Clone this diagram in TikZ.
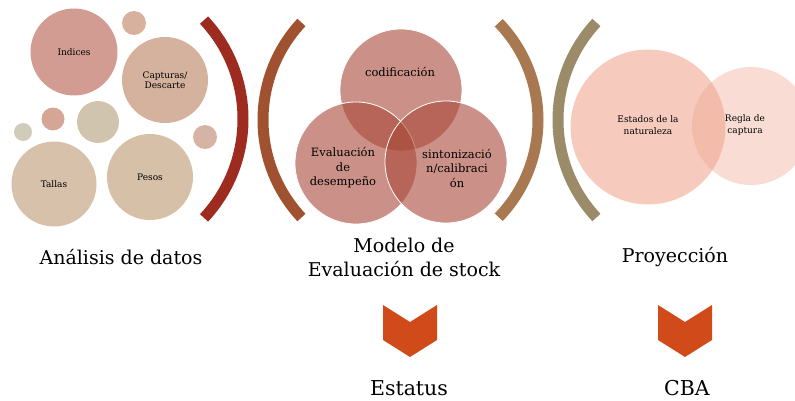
\documentclass[tikz,border=0pt]{standalone}
\usepackage{fontspec}
\setmainfont{DejaVu Serif}
\tikzset{
  blob/.style={circle,inner sep=0pt,align=center,font=\fontsize{9}{10.5}\selectfont},
  venn/.style={circle,minimum size=122,inner sep=0pt,fill=vennc,fill opacity=0.6,draw=white,draw opacity=1,line width=0.8,text opacity=1},
  proj/.style={circle,inner sep=0pt,fill=projc,text opacity=1},
  bracket/.style={line width=11},
  title/.style={align=center,font=\fontsize{19}{24}\selectfont},
  result/.style={font=\fontsize{20.5}{22}\selectfont},
  chev/.style={fill=chevc}
}
\definecolor{vennc}{HTML}{A84838}
\definecolor{projc}{HTML}{EE9F86}
\definecolor{chevc}{HTML}{D04A1A}
\begin{document}
\begin{tikzpicture}[x=1pt,y=-1pt]
\clip (0,0) rectangle (795,401);
% analisis de datos
\node[blob,fill={rgb,255:red,210;green,156;blue,146},minimum size=87] (ind) at (74,52) {Indices};
\node[blob,fill={rgb,255:red,216;green,176;blue,158},minimum size=24] (s1) at (134,23) {};
\node[blob,fill={rgb,255:red,213;green,178;blue,158},minimum size=86] (cap) at (165,80) {Capturas/\\Descarte};
\node[blob,fill={rgb,255:red,213;green,165;blue,150},minimum size=23] (s2) at (53,119) {};
\node[blob,fill={rgb,255:red,208;green,196;blue,175},minimum size=42] (s3) at (98,122) {};
\node[blob,fill={rgb,255:red,208;green,204;blue,185},minimum size=18] (s4) at (23,132) {};
\node[blob,fill={rgb,255:red,214;green,180;blue,165},minimum size=24] (s5) at (205,137) {};
\node[blob,fill={rgb,255:red,215;green,193;blue,170},minimum size=85] (tal) at (54,184) {Tallas};
\node[blob,fill={rgb,255:red,214;green,192;blue,168},minimum size=86] (pes) at (150,177) {Pesos};
\draw[bracket,color={rgb,255:red,158;green,43;blue,31}] (98,119) ++(-43:145) arc[start angle=-43,end angle=43,radius=145];
% modelo
\draw[bracket,color={rgb,255:red,160;green,82;blue,48}] (406,120) ++(137:143) arc[start angle=137,end angle=223,radius=143];
\node[venn] (cod) at (401,90) {};
\node[venn] (eva) at (356,163) {};
\node[venn] (sin) at (446,162) {};
\node[font=\fontsize{11.5}{13}\selectfont] (tcod) at (400,72) {codificación};
\node[align=center,font=\fontsize{11.5}{14.5}\selectfont] (teva) at (343,168) {Evaluación\\de\\desempeño};
\node[align=center,font=\fontsize{11.5}{14.5}\selectfont] (tsin) at (457,168) {sintonizació\\n/calibraci\\ón};
\draw[bracket,color={rgb,255:red,168;green,120;blue,80}] (398,120) ++(-44:140) arc[start angle=-44,end angle=44,radius=140];
% proyeccion
\draw[bracket,color={rgb,255:red,156;green,139;blue,104}] (701,120) ++(137:143) arc[start angle=137,end angle=223,radius=143];
\node[proj,fill opacity=0.55,minimum size=155] (est) at (648,127) {};
\node[proj,fill opacity=0.35,minimum size=118] (reg) at (751,126) {};
\node[align=center,font=\fontsize{9}{12}\selectfont] (test) at (648,125) {Estados de la\\naturaleza};
\node[align=center,font=\fontsize{9}{12}\selectfont] (treg) at (745,125) {Regla de\\captura};
% titulos
\node[title] (t1) at (121,257) {Análisis de datos};
\node[title] (t2) at (404,257) {Modelo de\\Evaluación de stock};
\node[title] (t3) at (675,257) {Proyección};
% flechas
\foreach \cx/\nm in {410/c1,685/c2}{
  \fill[chev] (\cx-27,305) -- (\cx,322) -- (\cx+27,305) -- (\cx+27,340) -- (\cx,357) -- (\cx-27,340) -- cycle;
}
\node[result] (r1) at (409,388) {Estatus};
\node[result] (r2) at (687,388) {CBA};
\end{tikzpicture}
\end{document}
